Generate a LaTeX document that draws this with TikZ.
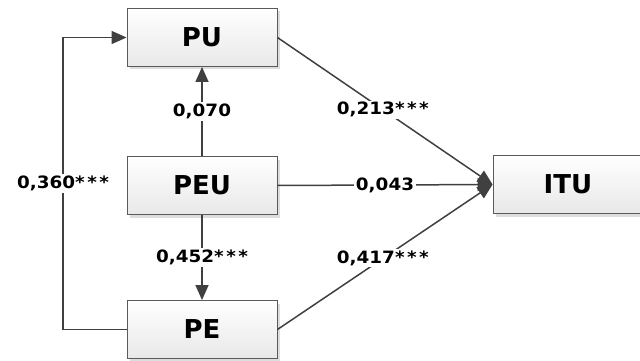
\documentclass[tikz,border=0pt]{standalone}
\usepackage{fontspec}
\setmainfont{DejaVu Sans}
\newfontfamily\labfont[FakeStretch=1.08]{DejaVu Sans}
\usetikzlibrary{arrows.meta,shadows}
\definecolor{linec}{HTML}{404040}
\definecolor{boxline}{HTML}{5A5A5A}
\newcommand{\st}{*\kern2.5pt}
\tikzset{
  box/.style={draw=boxline, line width=0.9pt, rectangle, minimum width=150pt, minimum height=58pt,
    top color=white, bottom color=black!9, font=\fontsize{26}{28}\selectfont\bfseries,
    drop shadow={shadow xshift=3pt, shadow yshift=-3pt, fill=black!22, opacity=0.6}, inner sep=0pt},
  conn/.style={draw=linec, line width=1.5pt},
  arr/.style={conn, -{Triangle[length=15pt,width=13pt]}},
  lab/.style={fill=white, inner sep=1.5pt, font=\labfont\fontsize{17}{19}\selectfont\bfseries, text=black}
}
\begin{document}
\begin{tikzpicture}[x=1pt,y=-1pt]
\useasboundingbox (0,0) rectangle (640,361);
\node[box] (PU) at (202,37.5) {PU};
\node[box] (PEU) at (202,185.5) {PEU};
\node[box] (PE) at (202,329.5) {PE};
\node[box] (ITU) at (568,184.5) {ITU};
\coordinate (L1) at (63,329.5);
\coordinate (L2) at (63,37.5);
\coordinate (T) at (ITU.west);
% lines
\draw[arr] (PEU.north) -- (PU.south) node[lab, pos=0.5] {0,070};
\draw[arr] (PEU.south) -- (PE.north) node[lab, pos=0.5] {0,452\st\st*};
\draw[arr] (PU.east) -- (T) node[lab, pos=0.49] {0,213\st\st*};
\draw[arr] (PEU.east) -- (T) node[lab, pos=0.5] {0,043};
\draw[arr] (PE.east) -- (T) node[lab, pos=0.49] {0,417\st\st*};
\draw[arr] (PE.west) -- (L1) -- node[lab, pos=0.5] {0,360\st\st*} (L2) -- (PU.west);
\end{tikzpicture}
\end{document}
